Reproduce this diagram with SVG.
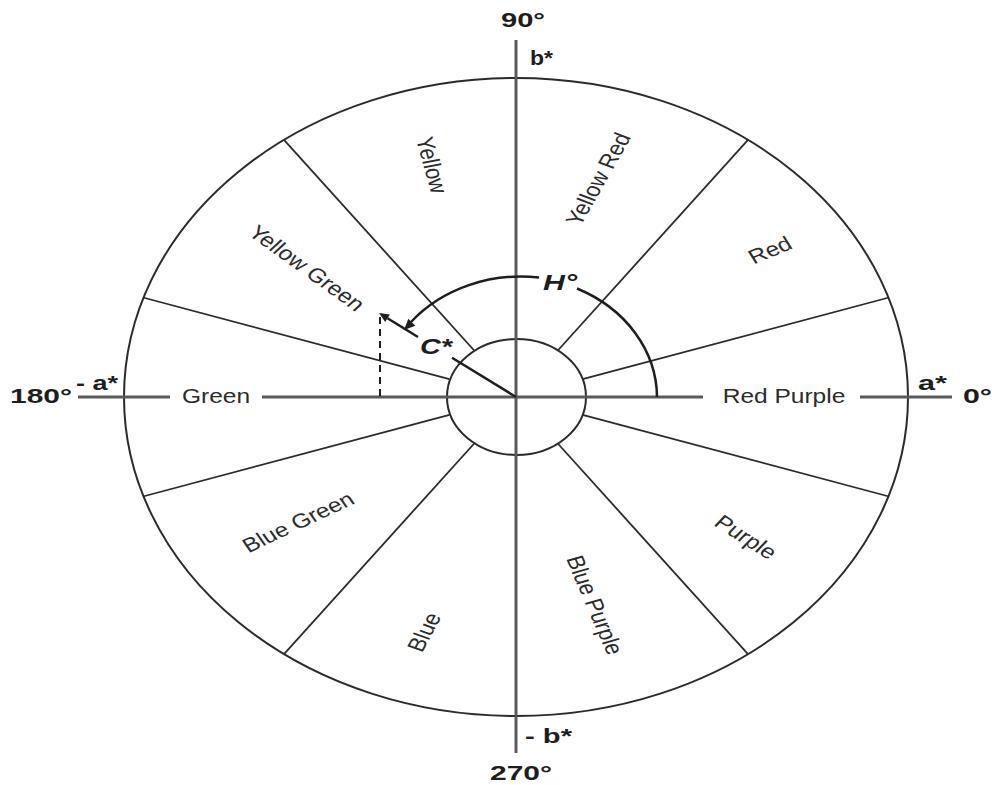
<svg xmlns="http://www.w3.org/2000/svg" width="992" height="785" viewBox="0 0 992 785">
  <style>
    .ring { fill: none; stroke: #2b2b2b; stroke-width: 2; }
    .sep { stroke: #2b2b2b; stroke-width: 1.8; fill: none; }
    .axis { stroke: #5a5a5a; stroke-width: 3; fill: none; }
    .lbl { font-family: "Liberation Sans", Arial, sans-serif; font-size: 20px; fill: #2b2b2b; text-anchor: middle; }
    .bold { font-family: "Liberation Sans", Arial, sans-serif; font-size: 21px; font-weight: bold; fill: #1e1e1e; }
    .bi { font-family: "Liberation Sans", Arial, sans-serif; font-size: 22px; font-weight: bold; font-style: italic; fill: #1e1e1e; }
    .mark { stroke: #1e1e1e; stroke-width: 2.5; fill: none; }
  </style>
  <rect width="992" height="785" fill="#ffffff"/>

  <g id="outer-ring">
    <ellipse class="ring" cx="516" cy="397" rx="392" ry="319"/>
  </g>

  <g id="sector-lines">
    <line class="sep" x1="582.6" y1="379.2" x2="889" y2="297.5"/>
    <line class="sep" x1="557.8" y1="350.5" x2="748" y2="139.9"/>
    <line class="sep" x1="474.2" y1="350.5" x2="284" y2="139.9"/>
    <line class="sep" x1="449.4" y1="379.2" x2="143" y2="297.5"/>
    <line class="sep" x1="449.4" y1="414.8" x2="143" y2="496.5"/>
    <line class="sep" x1="474.2" y1="443.5" x2="284" y2="654.1"/>
    <line class="sep" x1="557.8" y1="443.5" x2="748" y2="654.1"/>
    <line class="sep" x1="582.6" y1="414.8" x2="889" y2="496.5"/>
  </g>

  <g id="inner-circle">
    <ellipse class="ring" cx="516.5" cy="397" rx="69.5" ry="58"/>
  </g>

  <g id="axes">
    <line class="axis" x1="516" y1="40" x2="516" y2="753"/>
    <line class="axis" x1="78" y1="397" x2="170" y2="397"/>
    <line class="axis" x1="262" y1="397" x2="703" y2="397"/>
    <line class="axis" x1="860" y1="397" x2="952" y2="397"/>
  </g>

  <g id="hue-arc">
    <path class="mark" d="M 657 397 A 141 121 0 0 0 577 288.5"/>
    <path class="mark" d="M 539 277.5 A 141 121 0 0 0 411 322"/>
    <polygon points="404,330 415.3,325.7 408.3,318.7" fill="#1e1e1e"/>
    <text class="bi" x="543" y="290" textLength="34" lengthAdjust="spacingAndGlyphs">H°</text>
  </g>

  <g id="chroma-vector">
    <line class="mark" x1="516" y1="397" x2="452" y2="357.8"/>
    <line class="mark" x1="418" y1="337" x2="387.5" y2="318.2"/>
    <polygon points="379,313 389.9,314.4 385.2,322" fill="#1e1e1e"/>
    <line x1="380" y1="317" x2="380" y2="397" stroke="#1e1e1e" stroke-width="2" stroke-dasharray="7,5"/>
    <text class="bi" x="420" y="354" textLength="32" lengthAdjust="spacingAndGlyphs">C*</text>
  </g>

  <g id="sector-labels">
    <text class="lbl" transform="translate(432,165) scale(1.225,1) rotate(76.8)" dy="0.35em">Yellow</text>
    <text class="lbl" transform="translate(598,179) scale(1.225,1) rotate(-65.1)" dy="0.35em">Yellow Red</text>
    <text class="lbl" transform="translate(770,250) scale(1.225,1) rotate(-27)" dy="0.35em">Red</text>
    <text class="lbl" transform="translate(307,268) scale(1.225,1) rotate(41.3)" dy="0.35em">Yellow Green</text>
    <text class="lbl" transform="translate(216,396) scale(1.225,1)" dy="0.35em">Green</text>
    <text class="lbl" transform="translate(784,396) scale(1.225,1)" dy="0.35em">Red Purple</text>
    <text class="lbl" transform="translate(298,522) scale(1.225,1) rotate(-29.7)" dy="0.35em">Blue Green</text>
    <text class="lbl" transform="translate(424,632) scale(1.225,1) rotate(-66.5)" dy="0.35em">Blue</text>
    <text class="lbl" transform="translate(595,605) scale(1.225,1) rotate(70.6)" dy="0.35em">Blue Purple</text>
    <text class="lbl" transform="translate(746,537) scale(1.225,1) rotate(37.7)" dy="0.35em">Purple</text>
  </g>

  <g id="axis-labels">
    <text class="bold" x="501" y="27" textLength="44" lengthAdjust="spacingAndGlyphs">90°</text>
    <text class="bold" x="530" y="65" font-size="20" textLength="23" lengthAdjust="spacingAndGlyphs">b*</text>
    <text class="bold" x="10" y="403" textLength="62" lengthAdjust="spacingAndGlyphs">180°</text>
    <text class="bold" x="76" y="390" font-size="20" textLength="42" lengthAdjust="spacingAndGlyphs">- a*</text>
    <text class="bold" x="918" y="390" font-size="20" textLength="29" lengthAdjust="spacingAndGlyphs">a*</text>
    <text class="bold" x="963" y="403" textLength="29" lengthAdjust="spacingAndGlyphs">0°</text>
    <text class="bold" x="525" y="743" font-size="20" textLength="47" lengthAdjust="spacingAndGlyphs">- b*</text>
    <text class="bold" x="490" y="780" textLength="62" lengthAdjust="spacingAndGlyphs">270°</text>
  </g>
</svg>
